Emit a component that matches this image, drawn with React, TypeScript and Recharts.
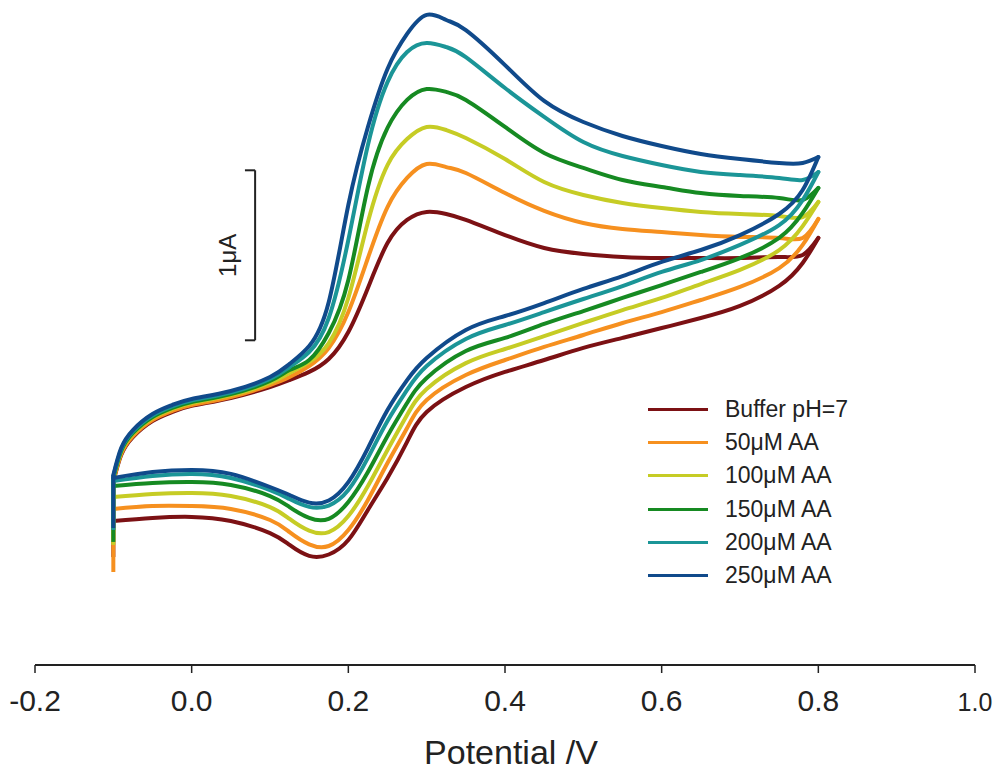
import { LineChart, Line, XAxis, YAxis, Legend, ReferenceLine, Label } from "recharts"

// potential (V) grid of the forward (anodic) sweep and the reverse sweep
const potentialsFwd = [-0.1, -0.09, -0.075, -0.05, -0.025, 0, 0.05, 0.1, 0.125, 0.15, 0.175, 0.2, 0.225, 0.25, 0.275, 0.3, 0.325, 0.35, 0.4, 0.45, 0.5, 0.55, 0.6, 0.65, 0.7, 0.75, 0.78, 0.8]
const potentialsRev = [-0.1, -0.05, 0, 0.05, 0.1, 0.125, 0.15, 0.175, 0.2, 0.225, 0.25, 0.275, 0.3, 0.35, 0.4, 0.45, 0.5, 0.55, 0.6, 0.65, 0.7, 0.75, 0.78, 0.8]
const startPotential = -0.1

// currents in uA (arbitrary zero, the chart has only a 1 uA scale bar)
const bufferFwd = [-0.124, 0.035, 0.141, 0.235, 0.288, 0.324, 0.371, 0.435, 0.476, 0.524, 0.6, 0.759, 1.018, 1.282, 1.418, 1.465, 1.453, 1.418, 1.329, 1.253, 1.218, 1.2, 1.194, 1.194, 1.194, 1.2, 1.212, 1.312]
const aa50Fwd = [-0.118, 0.041, 0.147, 0.241, 0.294, 0.329, 0.376, 0.447, 0.494, 0.559, 0.665, 0.876, 1.194, 1.494, 1.665, 1.747, 1.729, 1.694, 1.576, 1.471, 1.4, 1.365, 1.347, 1.329, 1.318, 1.312, 1.312, 1.424]
const aa100Fwd = [-0.106, 0.053, 0.159, 0.253, 0.306, 0.341, 0.388, 0.459, 0.518, 0.582, 0.694, 0.959, 1.406, 1.741, 1.894, 1.965, 1.947, 1.9, 1.776, 1.641, 1.565, 1.518, 1.488, 1.465, 1.453, 1.441, 1.435, 1.524]
const aa150Fwd = [-0.1, 0.059, 0.165, 0.259, 0.312, 0.347, 0.394, 0.471, 0.535, 0.594, 0.753, 1.065, 1.612, 1.959, 2.124, 2.188, 2.171, 2.124, 1.965, 1.812, 1.724, 1.653, 1.612, 1.576, 1.559, 1.547, 1.535, 1.606]
const aa200Fwd = [-0.091, 0.068, 0.174, 0.268, 0.321, 0.356, 0.403, 0.482, 0.553, 0.641, 0.841, 1.3, 1.859, 2.229, 2.406, 2.459, 2.435, 2.376, 2.194, 2.024, 1.876, 1.794, 1.741, 1.7, 1.682, 1.665, 1.653, 1.7]
const aa250Fwd = [-0.082, 0.076, 0.182, 0.276, 0.329, 0.365, 0.412, 0.494, 0.571, 0.676, 0.935, 1.506, 1.965, 2.306, 2.512, 2.624, 2.594, 2.535, 2.329, 2.118, 1.994, 1.912, 1.853, 1.806, 1.776, 1.753, 1.753, 1.788]

const bufferRev = [-0.353, -0.335, -0.329, -0.353, -0.424, -0.494, -0.558, -0.55, -0.465, -0.288, -0.1, 0.112, 0.288, 0.435, 0.524, 0.594, 0.665, 0.724, 0.782, 0.841, 0.912, 1.03, 1.165, 1.312]
const aa50Rev = [-0.282, -0.265, -0.265, -0.282, -0.347, -0.418, -0.49, -0.5, -0.406, -0.229, -0.012, 0.194, 0.359, 0.506, 0.594, 0.671, 0.741, 0.812, 0.876, 0.947, 1.024, 1.135, 1.271, 1.424]
const aa100Rev = [-0.212, -0.194, -0.188, -0.206, -0.271, -0.341, -0.41, -0.418, -0.324, -0.147, 0.065, 0.271, 0.424, 0.576, 0.659, 0.735, 0.812, 0.888, 0.959, 1.041, 1.124, 1.241, 1.382, 1.524]
const aa150Rev = [-0.147, -0.129, -0.124, -0.141, -0.206, -0.271, -0.335, -0.34, -0.241, -0.065, 0.147, 0.341, 0.488, 0.647, 0.724, 0.806, 0.882, 0.959, 1.035, 1.112, 1.194, 1.312, 1.459, 1.606]
const aa200Rev = [-0.118, -0.088, -0.076, -0.1, -0.171, -0.224, -0.27, -0.262, -0.171, 0.018, 0.235, 0.418, 0.559, 0.718, 0.8, 0.876, 0.953, 1.029, 1.112, 1.182, 1.271, 1.388, 1.535, 1.7]
const aa250Rev = [-0.1, -0.065, -0.053, -0.076, -0.153, -0.2, -0.245, -0.232, -0.124, 0.076, 0.3, 0.476, 0.606, 0.771, 0.853, 0.929, 1.012, 1.088, 1.171, 1.241, 1.329, 1.453, 1.594, 1.788]

// current at the very start of each scan (bottom of the vertical jump at -0.1 V)
const startCurrents = [-0.565, -0.653, -0.494, -0.476, -0.406, -0.394]

const seriesNames = ["Buffer pH=7", "50μM AA", "100μM AA", "150μM AA", "200μM AA", "250μM AA"]
const seriesColors = ["#7c1114", "#f6901f", "#c6cc25", "#168a22", "#1b9597", "#104a8b"]
const fwdCurrents = [bufferFwd, aa50Fwd, aa100Fwd, aa150Fwd, aa200Fwd, aa250Fwd]
const revCurrents = [bufferRev, aa50Rev, aa100Rev, aa150Rev, aa200Rev, aa250Rev]

const xTicks = [-0.2, 0, 0.2, 0.4, 0.6, 0.8, 1.0]

// 1 uA scale bar
const barPotential = 0.081
const barCapPotential = 0.068
const barLow = 0.71
const barHigh = 1.71

const series = seriesNames.map((name, s) => ({
  name,
  color: seriesColors[s],
  start: [
    { v: startPotential, i: startCurrents[s] },
    { v: startPotential, i: fwdCurrents[s][0] },
  ],
  fwd: potentialsFwd.map((v, k) => ({ v, i: fwdCurrents[s][k] })),
  rev: potentialsRev.map((v, k) => ({ v, i: revCurrents[s][k] })),
}))

const FONT = '"Liberation Sans", Arial, Helvetica, sans-serif'

function PotentialTick({ x, y, payload }: any) {
  const last = payload.value === 1
  return (
    <text x={x} y={y} dy={21} textAnchor="middle" fontSize={last ? 25 : 30} fill="#222">
      {Number(payload.value).toFixed(1)}
    </text>
  )
}

function ScaleLabel(props: any) {
  const vb = props.viewBox || {}
  const cx = vb.x - 28
  const cy = vb.y + vb.height / 2
  return (
    <text
      x={cx}
      y={cy}
      textAnchor="middle"
      dominantBaseline="central"
      fontSize={24}
      fill="#222"
      transform={`rotate(-90 ${cx} ${cy})`}
    >
      1μA
    </text>
  )
}

function CvLegend() {
  return (
    <div style={{ fontFamily: FONT, fontSize: 23, color: "#222" }}>
      {seriesNames.map((name, s) => (
        <div key={name} style={{ display: "flex", alignItems: "center", height: 33.2 }}>
          <span style={{ display: "inline-block", width: 60, height: 3, background: seriesColors[s], marginRight: 17 }} />
          <span>{name}</span>
        </div>
      ))}
    </div>
  )
}

export default function App() {
  return (
    <div style={{ position: "absolute", left: 0, top: 0, width: 993, height: 772, background: "#fff", fontFamily: FONT }}>
      <LineChart width={993} height={772} margin={{ top: 2, right: 18, bottom: 0, left: 35 }}>
        <XAxis
          type="number"
          dataKey="v"
          domain={[-0.2, 1]}
          ticks={xTicks}
          height={107}
          tickSize={8}
          tickMargin={17}
          tick={<PotentialTick />}
          axisLine={{ stroke: "#222", strokeWidth: 2 }}
          tickLine={{ stroke: "#222", strokeWidth: 1.5 }}
          allowDataOverflow
        >
          <Label value="Potential /V" position="insideBottom" offset={8} dx={6} fontSize={34} fill="#222" />
        </XAxis>
        <YAxis hide type="number" domain={[-1.2, 2.7]} allowDataOverflow />

        {series.flatMap((s) => [
          <Line
            key={s.name + "-start"}
            data={s.start}
            dataKey="i"
            type="linear"
            stroke={s.color}
            strokeWidth={4}
            dot={false}
            activeDot={false}
            legendType="none"
            isAnimationActive={false}
          />,
          <Line
            key={s.name + "-rev"}
            data={s.rev}
            dataKey="i"
            type="natural"
            stroke={s.color}
            strokeWidth={4}
            strokeLinecap="round"
            dot={false}
            activeDot={false}
            legendType="none"
            isAnimationActive={false}
          />,
          <Line
            key={s.name}
            name={s.name}
            data={s.fwd}
            dataKey="i"
            type="natural"
            stroke={s.color}
            strokeWidth={4}
            strokeLinecap="round"
            dot={false}
            activeDot={false}
            isAnimationActive={false}
          />,
        ])}

        <ReferenceLine
          segment={[{ x: barPotential, y: barLow }, { x: barPotential, y: barHigh }]}
          stroke="#222"
          strokeWidth={2}
          label={<ScaleLabel />}
        />
        <ReferenceLine segment={[{ x: barCapPotential, y: barHigh }, { x: barPotential, y: barHigh }]} stroke="#222" strokeWidth={2} />
        <ReferenceLine segment={[{ x: barCapPotential, y: barLow }, { x: barPotential, y: barLow }]} stroke="#222" strokeWidth={2} />

        <Legend
          layout="vertical"
          align="center"
          verticalAlign="middle"
          content={<CvLegend />}
          wrapperStyle={{ left: 648, top: 393, width: 320 }}
        />
      </LineChart>
    </div>
  )
}
